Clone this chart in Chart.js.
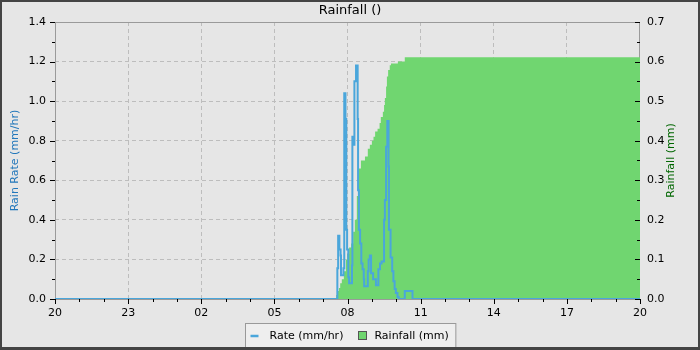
<!DOCTYPE html>
<html>
<head>
<meta charset="utf-8">
<title>Rainfall</title>
<script src="https://cdn.jsdelivr.net/npm/chart.js@4/dist/chart.umd.min.js"></script>
<style>
  body { margin: 0; background: #e6e6e6; }
  canvas { display: block; }
</style>
</head>
<body>
<canvas id="rainChart" width="700" height="350"></canvas>
<script>
// x axis runs 24 h from 20:00 to 20:00
const xTickLabels = ['20', '23', '02', '05', '08', '11', '14', '17', '20'];

// rain rate (mm/hr), each value holds until the next time
const rateTimes = ['07:35', '07:37', '07:40', '07:43', '07:44', '07:50', '07:52', '07:55', '07:57', '07:59',
    '08:02', '08:04', '08:11', '08:12', '08:14', '08:17', '08:21', '08:25', '08:26', '08:28',
    '08:31', '08:34', '08:37', '08:40', '08:41', '08:50', '08:52', '08:55', '08:58', '09:03',
    '09:10', '09:16', '09:20', '09:24', '09:30', '09:32', '09:35', '09:38', '09:41', '09:42',
    '09:46', '09:50', '09:53', '09:56', '09:59', '10:03', '10:06', '10:21', '10:40'];
const rateValues = [0.155, 0.32, 0.25, 0.22, 0.12, 0.155, 1.04, 0.91, 0.35, 0.25,
    0.11, 0.08, 0.17, 0.82, 0.78, 1.10, 1.18, 0.91, 0.55, 0.35,
    0.28, 0.18, 0.15, 0.10, 0.065, 0.14, 0.20, 0.22, 0.13, 0.10,
    0.07, 0.15, 0.18, 0.19, 0.40, 0.50, 0.77, 0.90, 0.67, 0.35,
    0.21, 0.14, 0.09, 0.05, 0.03, 0.01, 0, 0.04, 0];

// cumulative rainfall (mm)
const rainTimes = ['07:32', '07:34', '07:39', '07:42', '07:46', '07:51', '07:56', '07:59', '08:04', '08:09',
    '08:14', '08:18', '08:23', '08:28', '08:33', '08:43', '08:50', '08:55', '09:00', '09:04',
    '09:08', '09:14', '09:19', '09:22', '09:27', '09:30', '09:32', '09:35', '09:37', '09:40',
    '09:44', '09:47', '10:04', '10:21'];
const rainValues = [0.01, 0.02, 0.028, 0.04, 0.05, 0.07, 0.10, 0.114, 0.13, 0.14,
    0.17, 0.20, 0.26, 0.33, 0.35, 0.36, 0.38, 0.39, 0.40, 0.41,
    0.423, 0.43, 0.445, 0.46, 0.473, 0.49, 0.508, 0.537, 0.562, 0.579,
    0.591, 0.595, 0.60, 0.611];

const titleText = 'Rainfall ()';
const rateAxisTitle = 'Rain Rate (mm/hr)';
const rainAxisTitle = 'Rainfall (mm)';

const BLUE = '#4aa6db';
const GREEN = '#70d670';
const FONT = '"DejaVu Sans", sans-serif';

// hours since 20:00
function toHours(t) {
    const [hh, mm] = t.split(':').map(Number);
    let h = hh + mm / 60 - 20;
    if (h < 0) h += 24;
    return h;
}

const ratePoints = [{ x: 0, y: 0 }]
    .concat(rateTimes.map((t, i) => ({ x: toHours(t), y: rateValues[i] })))
    .concat([{ x: 24, y: rateValues[rateValues.length - 1] }]);
const rainPoints = [{ x: 0, y: 0 }]
    .concat(rainTimes.map((t, i) => ({ x: toHours(t), y: rainValues[i] })))
    .concat([{ x: 24, y: rainValues[rainValues.length - 1] }]);

Chart.defaults.font.family = FONT;
Chart.defaults.font.size = 11;
Chart.defaults.color = '#000';

const decor = {
    id: 'decor',
    beforeDraw(chart) {
        const ctx = chart.ctx;
        ctx.save();
        ctx.fillStyle = '#e6e6e6';
        ctx.fillRect(0, 0, chart.width, chart.height);
        ctx.restore();
    },
    beforeDatasetsDraw(chart) {
        const { ctx, chartArea: a } = chart;
        ctx.save();
        ctx.strokeStyle = '#9a9a9a';
        ctx.lineWidth = 1;
        ctx.strokeRect(a.left + 0.5, a.top + 0.5, a.right - a.left - 1, a.bottom - a.top);
        ctx.restore();
    },
    afterDatasetsDraw(chart) {
        const { ctx, chartArea: a, scales } = chart;
        ctx.save();
        ctx.strokeStyle = '#000';
        ctx.lineWidth = 1;
        ctx.beginPath();
        // left axis, outward
        for (let i = 0; i <= 14; i++) {
            const y = Math.round(scales.y.getPixelForValue(i / 10)) + 0.5;
            const len = i % 2 === 0 ? 5 : 3;
            ctx.moveTo(a.left - len, y);
            ctx.lineTo(a.left, y);
        }
        // right axis, inward
        for (let i = 0; i <= 14; i++) {
            const y = Math.round(scales.y1.getPixelForValue(i * 0.05)) + 0.5;
            const len = i % 2 === 0 ? 5 : 3;
            ctx.moveTo(a.right - len, y);
            ctx.lineTo(a.right, y);
        }
        // hours along the bottom
        for (let h = 0; h <= 24; h++) {
            const x = Math.round(scales.x.getPixelForValue(h)) + 0.5;
            const len = h % 3 === 0 ? 5 : 3;
            ctx.moveTo(x, a.bottom);
            ctx.lineTo(x, a.bottom + len);
        }
        ctx.stroke();
        ctx.restore();
    },
    afterDraw(chart) {
        const { ctx, chartArea: a } = chart;
        const midY = (a.top + a.bottom) / 2;
        ctx.save();
        ctx.font = '11px ' + FONT;
        ctx.textAlign = 'center';
        ctx.textBaseline = 'middle';

        ctx.save();
        ctx.translate(15, midY);
        ctx.rotate(-Math.PI / 2);
        ctx.fillStyle = '#2277bb';
        ctx.fillText(rateAxisTitle, 0, 0);
        ctx.restore();

        ctx.save();
        ctx.translate(671, midY);
        ctx.rotate(-Math.PI / 2);
        ctx.fillStyle = '#006600';
        ctx.fillText(rainAxisTitle, 0, 0);
        ctx.restore();

        // legend box
        const ds = chart.data.datasets;
        const w1 = ctx.measureText(ds[0].label).width;
        const w2 = ctx.measureText(ds[1].label).width;
        const total = 5 + 8 + 11 + w1 + 15 + 8 + 8 + w2 + 7;
        const x0 = Math.round(chart.width / 2 - total / 2) + 0.5;
        const top = 323.5, cy = 336;
        ctx.fillStyle = '#eeeeee';
        ctx.fillRect(x0, top, total, 30);
        ctx.strokeStyle = '#999';
        ctx.strokeRect(x0, top, total, 30);

        let x = x0 + 5;
        ctx.strokeStyle = ds[0].borderColor;
        ctx.lineWidth = 2.5;
        ctx.beginPath();
        ctx.moveTo(x, cy);
        ctx.lineTo(x + 8, cy);
        ctx.stroke();
        x += 8 + 11;
        ctx.textAlign = 'left';
        ctx.fillStyle = '#000';
        ctx.fillText(ds[0].label, x, cy);
        x += w1 + 15;
        ctx.fillStyle = ds[1].backgroundColor;
        ctx.fillRect(Math.round(x) + 0.5, cy - 4.5, 8, 8);
        ctx.strokeStyle = '#555';
        ctx.lineWidth = 1;
        ctx.strokeRect(Math.round(x) + 0.5, cy - 4.5, 8, 8);
        x += 8 + 8;
        ctx.fillStyle = '#000';
        ctx.fillText(ds[1].label, x, cy);

        // outer frame
        ctx.strokeStyle = '#444';
        ctx.lineWidth = 2;
        ctx.strokeRect(1, 1, chart.width - 2, chart.height - 2);
        ctx.fillStyle = '#444';
        ctx.fillRect(0, chart.height - 3, chart.width, 3);
        ctx.restore();
    }
};

const hideEdges = (lo, hi) => (c) =>
    (c.tick && (Math.abs(c.tick.value - lo) < 1e-6 || Math.abs(c.tick.value - hi) < 1e-6)) ? 'rgba(0,0,0,0)' : '#bdbdbd';

new Chart(document.getElementById('rainChart'), {
    type: 'line',
    data: {
        datasets: [{
            label: 'Rate (mm/hr)',
            data: ratePoints,
            yAxisID: 'y',
            borderColor: BLUE,
            borderWidth: 2,
            pointRadius: 0,
            stepped: true,
            fill: false,
            order: 0
        }, {
            label: 'Rainfall (mm)',
            data: rainPoints,
            yAxisID: 'y1',
            backgroundColor: GREEN,
            borderColor: 'rgba(0,0,0,0)',
            borderWidth: 0,
            pointRadius: 0,
            stepped: true,
            fill: 'origin',
            order: 1
        }]
    },
    options: {
        responsive: false,
        animation: false,
        events: [],
        layout: { padding: 0 },
        plugins: {
            legend: { display: false },
            tooltip: { enabled: false },
            title: {
                display: true,
                text: titleText,
                color: '#000',
                font: { size: 13, weight: 'normal', lineHeight: 1.2 },
                padding: { top: 2.5, bottom: 3.9 }
            }
        },
        scales: {
            x: {
                type: 'linear',
                min: 0,
                max: 24,
                afterFit: (s) => { s.height = 51; },
                ticks: {
                    stepSize: 3,
                    autoSkip: false,
                    maxRotation: 0,
                    padding: 8,
                    callback: (v) => xTickLabels[Math.round(v / 3)]
                },
                grid: { color: hideEdges(0, 24), drawTicks: false },
                border: { display: false, dash: [4, 3] }
            },
            y: {
                position: 'left',
                min: 0,
                max: 1.4,
                afterFit: (s) => { s.width = 55; },
                ticks: {
                    stepSize: 0.2,
                    padding: 9,
                    callback: (v) => v.toFixed(1)
                },
                grid: { color: hideEdges(0, 1.4), drawTicks: false },
                border: { display: false, dash: [4, 3] }
            },
            y1: {
                position: 'right',
                min: 0,
                max: 0.7,
                afterFit: (s) => { s.width = 60; },
                ticks: {
                    stepSize: 0.1,
                    padding: 7,
                    callback: (v) => v.toFixed(1)
                },
                grid: { drawOnChartArea: false, drawTicks: false },
                border: { display: false }
            }
        }
    },
    plugins: [decor]
});
</script>
</body>
</html>
